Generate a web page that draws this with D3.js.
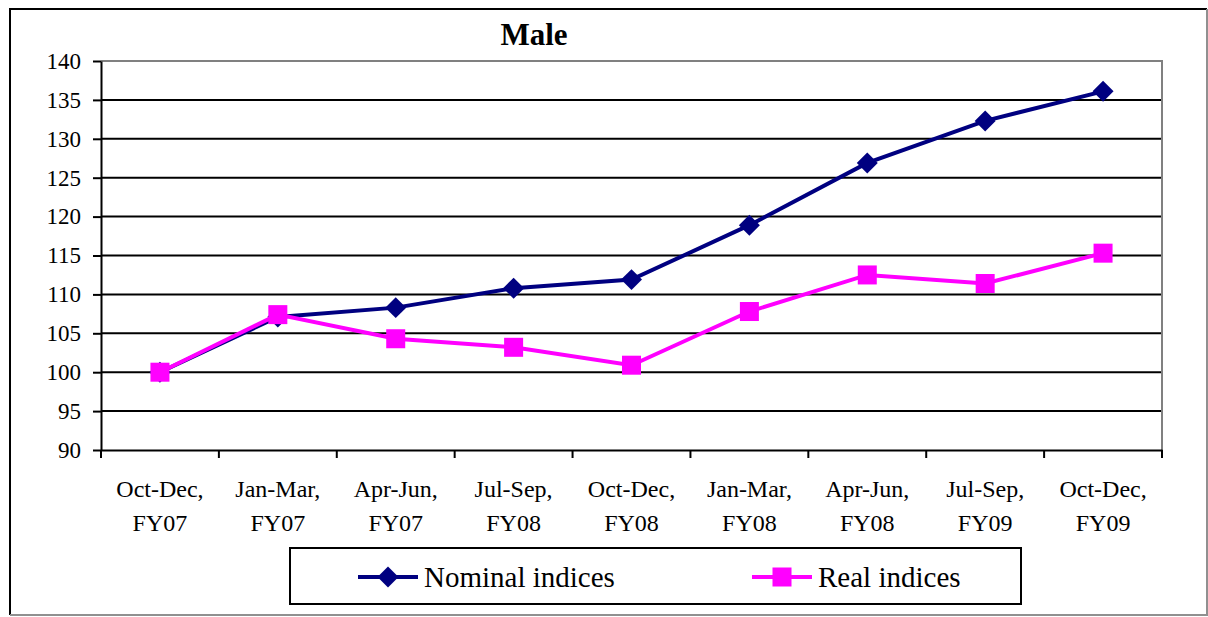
<!DOCTYPE html>
<html>
<head>
<meta charset="utf-8">
<script src="https://cdn.jsdelivr.net/npm/d3@7"></script>
<style>
  body { margin: 0; background: #fff; }
  svg { display: block; }
</style>
</head>
<body>
<svg id="chart" width="1208" height="617" font-family="Liberation Serif"></svg>
<script>
var categories = [
  ["Oct-Dec,", "FY07"], ["Jan-Mar,", "FY07"], ["Apr-Jun,", "FY07"],
  ["Jul-Sep,", "FY08"], ["Oct-Dec,", "FY08"], ["Jan-Mar,", "FY08"],
  ["Apr-Jun,", "FY08"], ["Jul-Sep,", "FY09"], ["Oct-Dec,", "FY09"]
];
var nominal = [100, 107.1, 108.3, 110.8, 111.9, 118.9, 126.9, 132.3, 136.1];
var real = [100, 107.4, 104.3, 103.2, 100.9, 107.8, 112.5, 111.4, 115.3];
var yTicks = [90, 95, 100, 105, 110, 115, 120, 125, 130, 135, 140];

var serif = "Liberation Serif";

var svg = d3.select("#chart");
var margin = { top: 61, right: 46, bottom: 167, left: 101 };
var width = 1208 - margin.left - margin.right,
  height = 617 - margin.top - margin.bottom;

// outer frame: black left/top, grey right/bottom
svg.append("path")
  .attr("d", "M10,615V9H1207")
  .attr("fill", "none").attr("stroke", "#000").attr("stroke-width", 2);
svg.append("path")
  .attr("d", "M1207,9V615H10")
  .attr("fill", "none").attr("stroke", "#909090").attr("stroke-width", 2);

svg.append("text")
  .attr("x", 534).attr("y", 45)
  .attr("text-anchor", "middle")
  .attr("font-family", serif)
  .attr("font-size", 31).attr("font-weight", "bold")
  .text("Male");

var g = svg.append("g")
  .attr("transform", "translate(" + margin.left + "," + margin.top + ")");

var x = d3.scaleBand().domain(d3.range(categories.length)).range([0, width]);
var y = d3.scaleLinear().domain([90, 140]).range([height, 0]);

// grid lines
g.selectAll(".grid")
  .data(yTicks.slice(1, -1))
  .enter().append("line")
  .attr("x1", 0).attr("x2", width)
  .attr("y1", function(d) { return y(d); })
  .attr("y2", function(d) { return y(d); })
  .attr("stroke", "#000").attr("stroke-width", 2);

// plot area border (top/right grey)
g.append("path")
  .attr("d", "M0," + y(140) + "H" + width + "V" + height)
  .attr("fill", "none").attr("stroke", "#808080").attr("stroke-width", 2);

// y axis
var yAxis = g.append("g")
  .call(d3.axisLeft(y).tickValues(yTicks).tickSize(8).tickSizeOuter(0))
  .attr("font-family", serif).attr("font-size", 23);
yAxis.select(".domain").attr("stroke-width", 2);
yAxis.selectAll(".tick line").attr("stroke-width", 2);
yAxis.selectAll("text")
  .attr("font-family", serif).attr("font-size", 23)
  .attr("fill", "#000").attr("x", -20);

// x axis
var xAxis = g.append("g")
  .attr("transform", "translate(0," + height + ")")
  .call(d3.axisBottom(x).tickSize(0).tickFormat(""))
  .attr("font-family", serif);
xAxis.select(".domain").attr("stroke-width", 2);
g.selectAll(".xtick")
  .data(d3.range(categories.length + 1))
  .enter().append("line")
  .attr("x1", function(i) { return i * x.step(); })
  .attr("x2", function(i) { return i * x.step(); })
  .attr("y1", height).attr("y2", height + 8)
  .attr("stroke", "#000").attr("stroke-width", 2);

var labels = g.selectAll(".xlabel")
  .data(categories)
  .enter().append("text")
  .attr("text-anchor", "middle")
  .attr("font-family", serif)
  .attr("font-size", 24)
  .attr("transform", function(d, i) {
    return "translate(" + (x(i) + x.bandwidth() / 2) + "," + (height + 47) + ")";
  });
labels.append("tspan").attr("x", 0).attr("y", 0).text(function(d) { return d[0]; });
labels.append("tspan").attr("x", 0).attr("y", 34).text(function(d) { return d[1]; });

var cx = function(d, i) { return x(i) + x.bandwidth() / 2; };
var line = d3.line().x(cx).y(function(d) { return y(d); });

g.append("path").datum(nominal)
  .attr("d", line).attr("fill", "none")
  .attr("stroke", "#000080").attr("stroke-width", 4);
g.selectAll(".nom")
  .data(nominal)
  .enter().append("path")
  .attr("d", d3.symbol().type(d3.symbolSquare).size(220))
  .attr("transform", function(d, i) {
    return "translate(" + cx(d, i) + "," + y(d) + ") rotate(45)";
  })
  .attr("fill", "#000080");

g.append("path").datum(real)
  .attr("d", line).attr("fill", "none")
  .attr("stroke", "#ff00ff").attr("stroke-width", 4);
g.selectAll(".real")
  .data(real)
  .enter().append("rect")
  .attr("x", function(d, i) { return cx(d, i) - 9.5; })
  .attr("y", function(d) { return y(d) - 9.5; })
  .attr("width", 19).attr("height", 19)
  .attr("fill", "#ff00ff");

// legend
var legend = svg.append("g").attr("transform", "translate(290,548)");
legend.append("rect")
  .attr("width", 731).attr("height", 56)
  .attr("fill", "#fff").attr("stroke", "#000").attr("stroke-width", 2);

var items = [
  { name: "Nominal indices", color: "#000080", marker: "diamond", x: 68 },
  { name: "Real indices", color: "#ff00ff", marker: "square", x: 462 }
];
items.forEach(function(it) {
  var lg = legend.append("g").attr("transform", "translate(" + it.x + ",29)");
  lg.append("line").attr("x1", 0).attr("x2", 60)
    .attr("stroke", it.color).attr("stroke-width", 4);
  if (it.marker === "diamond") {
    lg.append("path")
      .attr("d", d3.symbol().type(d3.symbolSquare).size(220))
      .attr("transform", "translate(30,0) rotate(45)")
      .attr("fill", it.color);
  } else {
    lg.append("rect").attr("x", 20.5).attr("y", -9.5)
      .attr("width", 19).attr("height", 19).attr("fill", it.color);
  }
  lg.append("text").attr("x", 66).attr("y", 10)
    .attr("font-family", serif)
    .attr("font-size", 29).text(it.name);
});
</script>
</body>
</html>
